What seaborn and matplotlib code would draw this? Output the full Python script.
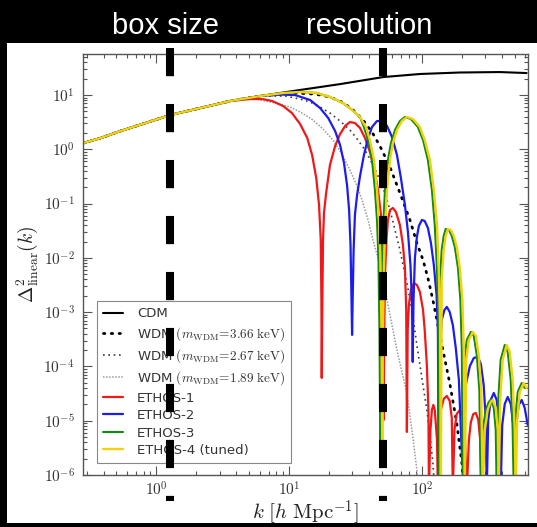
import matplotlib
matplotlib.use("Agg")
import matplotlib.pyplot as plt
from matplotlib.patches import Rectangle
from matplotlib.ticker import LogLocator, NullFormatter, FixedLocator, FixedFormatter
import seaborn as sns

# ---------------------------------------------------------------------------
# Linear dimensionless power spectra Delta^2(k), k in h/Mpc
# ---------------------------------------------------------------------------
# large-scale part shared by every model
low_k = [0.283, 0.379, 0.536, 0.827, 1.27, 2.14, 3.60]
low_v = [1.31, 1.61, 2.17, 3.05, 4.28, 5.76, 7.76]

cdm_k = low_k + [6.05, 12.1, 24.2, 50.9, 96.6, 193, 386, 615]
cdm_v = low_v + [9.59, 12.4, 15.9, 21.4, 24.4, 26.0, 26.5, 25.4]

wdm366_k = low_k + [6.05, 10.7, 15.7, 20.3, 25.0, 29.8, 36.0, 42.1, 48.3, 57.5, 68.3,
                    81.3, 91.7, 102, 111, 121, 132, 144, 162, 183, 200, 207]
wdm366_v = low_v + [9.59, 10.9, 10.4, 9.19, 7.43, 5.52, 3.47, 2.08, 1.15, 0.472, 0.157,
                    0.0499, 0.0188, 9.14e-3, 4.27e-3, 1.68e-3, 5.81e-4, 2.01e-4, 4.96e-5,
                    9.1e-6, 1.67e-6, 5e-7]

wdm267_k = low_k + [6.05, 9.33, 12.1, 14.4, 17.1, 20.3, 24.2, 28.7, 33.0, 37.3, 42.1,
                    48.3, 52.7, 57.5, 62.7, 68.3, 77.1, 84.1, 91.7, 100, 109, 115, 121, 125]
wdm267_v = low_v + [9.59, 9.59, 8.44, 7.43, 6.01, 4.66, 3.32, 2.27, 1.48, 0.97, 0.560,
                    0.272, 0.157, 0.0762, 0.0327, 0.0140, 3.45e-3, 1.10e-3, 2.49e-4,
                    6.14e-5, 1.58e-5, 5.47e-6, 1.67e-6, 5e-7]

wdm189_k = low_k + [5.09, 6.05, 7.85, 10.2, 12.5, 15.1, 18.0, 21.4, 25.0, 28.7, 32.5,
                    36.0, 39.3, 42.8, 46.7, 50.0, 54.6, 59.5, 64.9, 70.7, 77.1, 84.1,
                    91.7, 93.3]
wdm189_v = low_v + [8.81, 8.09, 7.13, 6.01, 4.66, 3.47, 2.36, 1.48, 0.819, 0.416, 0.211,
                    0.103, 0.0499, 0.0214, 9.95e-3, 4.45e-3, 1.68e-3, 5.81e-4, 2.01e-4,
                    7.92e-5, 3.25e-5, 6.76e-6, 1.24e-6, 5e-7]

ethos1_k = low_k + [5.09, 6.27, 7.45, 9.01, 10.5, 12.1, 13.7, 14.9, 16.0, 16.8, 17.3,
                    17.5, 17.6, 17.8, 18.0, 18.3, 19.0, 20.3, 22.2, 24.2, 26.4, 28.7,
                    31.3, 34.2, 37.3, 40.6, 43.6, 46.7, 49.2, 50.5, 51.2, 51.5, 52.1,
                    52.7, 54.1, 55.5, 57.5, 60.5, 63.8, 68.3, 72.0, 74.5, 76.2, 77.1,
                    78.2, 79.8, 82.6, 87.1, 91.7, 96.6, 102, 105, 109, 112, 113, 116,
                    119, 122, 125, 130, 132, 135, 139, 146, 154, 162, 168, 171, 176,
                    183, 193, 203, 210, 218, 226, 234, 244, 255, 266, 275, 282]
ethos1_v = low_v + [8.44, 8.44, 7.76, 6.27, 4.66, 2.92, 1.61, 0.785, 0.296, 0.0942,
                    0.0214, 1.68e-3, 6.14e-5, 1.68e-3, 0.0214, 0.0671, 0.157, 0.514,
                    1.15, 1.91, 2.69, 3.18, 3.05, 2.47, 1.61, 0.892, 0.453, 0.178,
                    0.0617, 9.14e-3, 4.70e-4, 1.03e-5, 4.70e-4, 4.84e-3, 0.0214, 0.0499,
                    0.0762, 0.0830, 0.070, 0.0404, 0.0173, 6.52e-3, 1.10e-3, 6.21e-6,
                    4.70e-4, 1.36e-3, 2.56e-3, 3.45e-3, 3.17e-3, 2.36e-3, 1.10e-3,
                    4.70e-4, 1.07e-4, 1.58e-5, 5e-7, 6.76e-6, 1.58e-5, 1.95e-5, 1.58e-5,
                    4.43e-6, 5e-7, 6.76e-6, 1.58e-5, 2.52e-5, 2.86e-5, 2.32e-5, 1.13e-5,
                    5e-7, 6.76e-6, 1.33e-5, 1.58e-5, 1.28e-5, 6.76e-6, 5e-7, 4.43e-6,
                    9.5e-6, 1.33e-5, 1.39e-5, 1.03e-5, 4.43e-6, 5e-7]

ethos2_k = low_k + [6.05, 8.56, 11.1, 14.4, 17.1, 19.7, 22.2, 24.2, 25.9, 27.3, 28.3,
                    29.0, 29.5, 29.8, 30.1, 30.6, 31.3, 32.5, 34.2, 36.6, 39.3, 42.1,
                    45.9, 50.0, 54.6, 59.5, 64.9, 69.5, 74.5, 78.5, 82.0, 84.1, 85.3,
                    86.5, 88.6, 91.7, 94.9, 100, 105, 111, 117, 123, 129, 132, 134, 138,
                    141, 148, 154, 162, 171, 180, 190, 198, 202, 205, 214, 230, 246, 264,
                    278, 292, 303, 308, 316, 330, 348, 366, 383, 392, 403, 421, 443, 467,
                    488, 500, 514, 536, 565, 595, 627]
ethos2_v = low_v + [9.59, 10.2, 10.0, 8.09, 5.76, 3.77, 2.17, 1.20, 0.560, 0.220, 0.0762,
                    0.0173, 1.68e-3, 3.81e-4, 1.68e-3, 0.0140, 0.0617, 0.144, 0.322,
                    0.785, 1.61, 2.57, 3.32, 3.32, 2.69, 1.69, 0.785, 0.296, 0.0942,
                    0.030, 7.40e-3, 1.68e-3, 1.21e-4, 1.68e-3, 9.95e-3, 0.0243, 0.0387,
                    0.0499, 0.0478, 0.0356, 0.0188, 7.40e-3, 2.07e-3, 4.70e-4, 5e-7,
                    3.08e-4, 7.19e-4, 1.10e-3, 1.25e-3, 1.01e-3, 5.81e-4, 2.19e-4,
                    5.64e-5, 4.43e-6, 1.67e-6, 1.03e-5, 4.56e-5, 1.02e-4, 1.43e-4,
                    1.50e-4, 1.11e-4, 4.56e-5, 1.03e-5, 5e-7, 1.03e-5, 2.41e-5, 3.25e-5,
                    2.41e-5, 8.37e-6, 5e-7, 8.37e-6, 2.04e-5, 2.74e-5, 2.04e-5, 8.37e-6,
                    5e-7, 8.37e-6, 1.95e-5, 2.41e-5, 1.72e-5, 8.37e-6]

ethos4_k = low_k + [6.05, 9.01, 12.1, 16.2, 20.3, 25.5, 29.8, 34.2, 37.9, 40.6, 43.6,
                    45.9, 47.5, 48.7, 49.6, 50.3, 50.9, 51.8, 53.2, 54.6, 57.5, 60.5,
                    64.9, 70.7, 77.1, 85.6, 96.6, 105, 115, 123, 130, 134, 137, 139, 141,
                    146, 151, 157, 165, 174, 183, 193, 202, 207, 210, 216, 226, 242, 255,
                    268, 280, 287, 298, 313, 330, 342, 360, 373, 379, 389, 406, 436, 459,
                    483, 500, 509, 522, 546, 585, 615]
ethos4_v = low_v + [9.59, 10.9, 11.4, 10.9, 9.19, 7.13, 5.30, 3.94, 2.57, 1.48, 0.636,
                    0.178, 0.0499, 9.14e-3, 4.70e-4, 4.43e-6, 4.70e-4, 7.40e-3, 0.0499,
                    0.178, 0.636, 1.31, 2.27, 3.32, 3.94, 3.61, 2.57, 1.48, 0.636, 0.178,
                    0.0404, 5.98e-3, 7.19e-4, 5e-7, 3.92e-3, 0.0140, 0.0253, 0.0341,
                    0.0327, 0.0253, 0.0159, 6.52e-3, 1.68e-3, 2.01e-4, 5e-7, 1.32e-4,
                    3.08e-4, 4.33e-4, 3.65e-4, 1.63e-4, 3.69e-5, 5e-7, 6.76e-6, 1.58e-5,
                    2.22e-5, 2.41e-5, 1.72e-5, 6.76e-6, 5e-7, 2.41e-5, 1.32e-4, 2.49e-4,
                    1.85e-4, 5.64e-5, 6.76e-6, 5e-7, 1.03e-5, 3.39e-5, 4.96e-5, 4.02e-5]

ethos3_k = low_k + [6.05, 9.01, 12.1, 16.2, 20.3, 25.5, 29.8, 34.2, 36.6, 39.3, 42.1,
                    44.3, 45.9, 47.1, 47.9, 48.6, 49.2, 50.0, 51.4, 52.7, 55.5, 58.5,
                    62.7, 68.3, 74.5, 82.6, 93.3, 102, 111, 119, 125, 130, 133, 134, 137,
                    141, 146, 151, 160, 168, 177, 187, 195, 200, 203, 209, 218, 234, 246,
                    259, 271, 278, 287, 303, 319, 330, 348, 360, 366, 376, 392, 421, 443,
                    467, 483, 492, 505, 527, 565, 595]
ethos3_v = low_v + [9.59, 10.9, 11.4, 10.9, 9.19, 7.13, 5.30, 3.94, 2.57, 1.48, 0.636,
                    0.178, 0.0499, 9.14e-3, 4.70e-4, 3.90e-6, 4.70e-4, 7.40e-3, 0.0499,
                    0.178, 0.636, 1.31, 2.27, 3.32, 3.94, 3.61, 2.57, 1.48, 0.636, 0.178,
                    0.0404, 5.98e-3, 7.19e-4, 5e-7, 3.92e-3, 0.0140, 0.0253, 0.0341,
                    0.0327, 0.0253, 0.0159, 6.52e-3, 1.68e-3, 2.01e-4, 5e-7, 1.32e-4,
                    3.08e-4, 4.33e-4, 3.65e-4, 1.63e-4, 3.69e-5, 5e-7, 6.76e-6, 1.58e-5,
                    2.22e-5, 2.41e-5, 1.72e-5, 6.76e-6, 5e-7, 2.41e-5, 1.32e-4, 2.49e-4,
                    1.85e-4, 5.64e-5, 6.76e-6, 5e-7, 1.03e-5, 3.39e-5, 4.96e-5, 4.02e-5]

# simulation limits: box size and resolution scales
limit_k = [1.27, 51.0]
limit_names = ["box size", "resolution"]

x_ticks = [1, 10, 100]
x_tick_labels = [r"$10^{0}$", r"$10^{1}$", r"$10^{2}$"]
y_ticks = [1e-6, 1e-5, 1e-4, 1e-3, 1e-2, 1e-1, 1e0, 1e1]
y_tick_labels = [r"$10^{-6}$", r"$10^{-5}$", r"$10^{-4}$", r"$10^{-3}$",
                 r"$10^{-2}$", r"$10^{-1}$", r"$10^{0}$", r"$10^{1}$"]

series = [
    ("CDM", cdm_k, cdm_v, dict(color="black", linewidth=1.5, linestyle="-")),
    (r"WDM $(m_{\rm WDM}\!=\!3.66\ {\rm keV})$", wdm366_k, wdm366_v,
     dict(color="black", linewidth=2.0, linestyle=(0, (0.5, 2.3)), dash_capstyle="round")),
    (r"WDM $(m_{\rm WDM}\!=\!2.67\ {\rm keV})$", wdm267_k, wdm267_v,
     dict(color="#3a3a3a", linewidth=1.2, linestyle=(0, (1, 2.2)))),
    (r"WDM $(m_{\rm WDM}\!=\!1.89\ {\rm keV})$", wdm189_k, wdm189_v,
     dict(color="#9a9a9a", linewidth=1.1, linestyle=(0, (1, 1)))),
    ("ETHOS-1", ethos1_k, ethos1_v, dict(color="#f01818", linewidth=1.6, linestyle="-")),
    ("ETHOS-2", ethos2_k, ethos2_v, dict(color="#1c1cf0", linewidth=1.6, linestyle="-")),
    ("ETHOS-3", ethos3_k, ethos3_v, dict(color="#138a13", linewidth=1.5, linestyle="-")),
    ("ETHOS-4 (tuned)", ethos4_k, ethos4_v, dict(color="#f2d20c", linewidth=1.7, linestyle="-")),
]

sns.set_style("ticks")
plt.rcParams["font.family"] = ["DejaVu Sans"]
plt.rcParams["mathtext.fontset"] = "cm"

W, H = 537, 527
fig = plt.figure(figsize=(W / 100, H / 100), dpi=100, facecolor="black")
fig.patches.append(Rectangle((7 / W, 4 / H), 530 / W, 480 / H, transform=fig.transFigure,
                             facecolor="white", edgecolor="none", zorder=-5))

ax = fig.add_axes([83 / W, 52 / H, 445 / W, 421 / H])
ax.set_zorder(1)
ax.set_facecolor("white")
ax.set_xscale("log")
ax.set_yscale("log")

handles, labels = [], []
for name, k, v, style in series:
    sns.lineplot(x=k, y=v, ax=ax, estimator=None, sort=False, legend=False, **style)
    handles.append(ax.lines[-1])
    labels.append(name)

ax.set_xlim(0.28, 630)
ax.set_ylim(1e-6, 57)

# scale limits drawn as heavy dashed bars running past the frame
for kk in limit_k:
    ax.plot([kk, kk], [1.0143, -0.0618], transform=ax.get_xaxis_transform(),
            color="black", linewidth=5.8, linestyle=(0, (3.5, 3.45)),
            solid_capstyle="butt", dash_capstyle="butt", clip_on=False, zorder=10)

for name, xpix in zip(limit_names, [165, 369]):
    fig.text(xpix / W, (H - 34) / H, name, color="white", fontsize=21,
             family=["Liberation Sans", "DejaVu Sans"], ha="center", va="baseline")

ax.xaxis.set_major_locator(FixedLocator(x_ticks))
ax.xaxis.set_major_formatter(FixedFormatter(x_tick_labels))
ax.yaxis.set_major_locator(FixedLocator(y_ticks))
ax.yaxis.set_major_formatter(FixedFormatter(y_tick_labels))
for axis in (ax.xaxis, ax.yaxis):
    axis.set_minor_locator(LogLocator(base=10, subs=[2, 3, 4, 5, 6, 7, 8, 9], numticks=100))
    axis.set_minor_formatter(NullFormatter())

ax.tick_params(which="both", direction="in", top=True, right=True, color="#555555",
               width=0.8, labelsize=11, labelcolor="#333333")
ax.tick_params(which="major", length=6.5)
ax.tick_params(axis="x", which="major", pad=4)
ax.tick_params(axis="y", which="major", pad=6)
ax.tick_params(which="minor", length=3.2)
for sp in ax.spines.values():
    sp.set_color("#555555")
    sp.set_linewidth(1.0)

ax.set_xlabel(r"$k\ [h\ {\rm Mpc}^{-1}]$", fontsize=15, color="#222222")
ax.set_ylabel(r"$\Delta^2_{\rm linear}(k)$", fontsize=14, color="#222222")
ax.xaxis.set_label_coords(0.5, -0.054)
ax.yaxis.set_label_coords(-0.097, 0.5)

leg = ax.legend(handles, labels, loc="lower left", bbox_to_anchor=(0.031, 0.0285),
                borderaxespad=0, frameon=True, fancybox=False, edgecolor="#888888",
                fontsize=9.5, handlelength=1.5, handletextpad=1.1, labelspacing=0.34,
                borderpad=0.45, framealpha=1)
leg.get_frame().set_linewidth(0.8)
for t in leg.get_texts():
    t.set_color("#333333")

fig.savefig("out.png", dpi=100, facecolor="black")
